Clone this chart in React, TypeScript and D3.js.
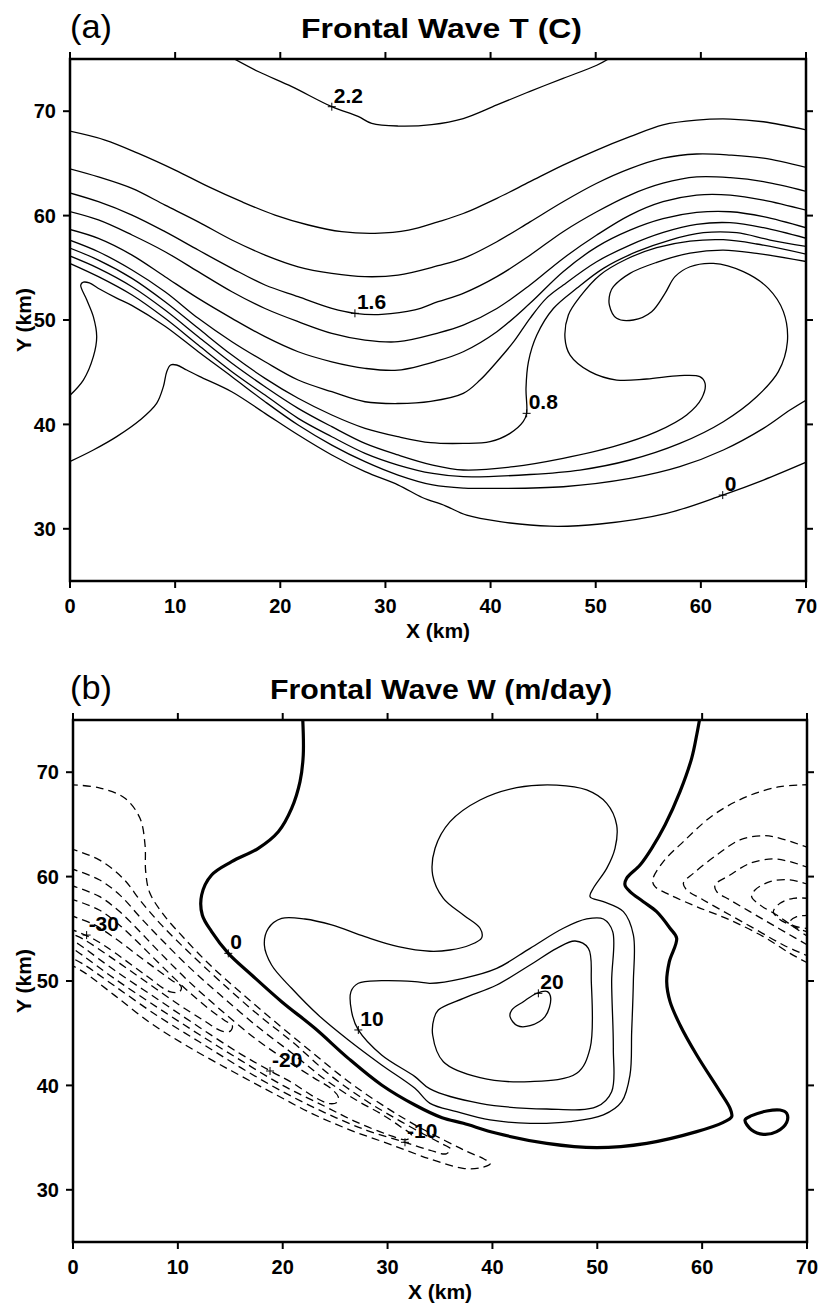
import React from "react";
import * as d3 from "d3";

type Pt = [number, number];

const xTicks = [0, 10, 20, 30, 40, 50, 60, 70];
const yTicks = [30, 40, 50, 60, 70];

// (a) temperature contours, [x km, y km]
const t22: Pt[] = [[15.1, 75.3], [17.9, 73.8], [21.1, 72.35], [24.9, 70.43], [27.4, 69.5], [28.7, 68.83], [31.2, 68.58], [34.4, 68.72], [37.4, 69.3], [40.6, 70.6], [43.75, 71.9], [46.9, 73.15], [50.1, 74.4], [51.7, 75.3]];
const t20: Pt[] = [[-0.3, 68.15], [3.33, 67.24], [6.5, 65.96], [10.0, 64.36], [13.16, 62.77], [16.33, 61.33], [19.5, 60.05], [22.67, 59.1], [25.84, 58.46], [29.0, 58.3], [32.2, 58.6], [35.0, 59.4], [37.4, 60.2], [40.6, 61.65], [43.75, 63.25], [46.9, 64.84], [50.1, 66.28], [53.26, 67.56], [56.4, 68.7], [59.6, 69.15], [62.8, 69.25], [65.95, 68.99], [70.3, 68.15]];
const t18: Pt[] = [[-0.3, 64.55], [2.7, 63.7], [5.9, 62.6], [9.04, 61.0], [12.2, 59.4], [15.4, 57.66], [18.55, 56.22], [21.7, 55.1], [24.9, 54.47], [28.06, 54.15], [31.2, 54.3], [35.0, 55.2], [37.4, 55.9], [40.6, 57.5], [43.75, 59.4], [46.9, 61.33], [50.1, 63.1], [53.26, 64.5], [56.4, 65.5], [59.6, 65.9], [62.8, 65.8], [65.95, 65.5], [70.3, 64.55]];
const t16: Pt[] = [[-0.3, 62.25], [2.7, 61.33], [5.9, 60.05], [9.04, 58.46], [12.2, 56.7], [15.4, 54.95], [18.55, 53.35], [21.7, 52.23], [24.9, 51.11], [27.1, 50.64], [29.65, 50.54], [32.8, 50.96], [35.0, 51.75], [37.4, 52.55], [40.6, 54.15], [43.75, 56.2], [46.9, 58.46], [50.1, 60.37], [53.26, 61.97], [56.4, 63.1], [59.6, 63.7], [62.8, 63.63], [65.95, 63.25], [70.3, 62.25]];
const t14: Pt[] = [[-0.3, 60.45], [2.7, 59.58], [5.9, 58.14], [9.04, 56.54], [12.2, 54.63], [15.4, 52.71], [18.55, 51.1], [21.7, 49.84], [24.9, 48.72], [28.06, 48.08], [31.2, 47.92], [35.0, 48.75], [37.4, 49.5], [40.6, 51.1], [43.75, 53.35], [46.9, 55.9], [50.1, 58.14], [53.26, 60.05], [56.4, 61.33], [59.6, 61.97], [62.8, 61.97], [65.95, 61.49], [70.3, 60.45]];
const t12: Pt[] = [[-0.3, 58.75], [2.7, 57.82], [5.9, 56.22], [9.04, 54.15], [12.2, 52.07], [15.4, 50.16], [18.55, 48.4], [21.7, 46.96], [24.9, 46.0], [28.06, 45.37], [31.2, 45.2], [35.0, 46.1], [37.4, 46.96], [40.6, 48.88], [43.75, 51.6], [46.9, 54.63], [50.1, 57.0], [53.26, 58.6], [56.4, 59.7], [59.6, 60.3], [62.8, 60.37], [65.95, 59.9], [70.3, 58.75]];
const t10: Pt[] = [[-0.3, 57.75], [2.7, 56.54], [5.9, 54.79], [9.04, 52.71], [12.2, 50.16], [15.4, 47.92], [18.55, 46.0], [21.7, 44.25], [24.9, 43.13], [28.06, 42.17], [31.2, 42.0], [34.3, 42.2], [37.4, 42.97], [39.0, 44.25], [40.6, 46.0], [42.2, 47.92], [43.75, 50.16], [45.3, 52.07], [46.92, 53.35], [50.09, 55.58], [53.26, 57.18], [56.43, 58.39], [59.6, 59.16], [62.77, 59.32], [65.95, 58.84], [70.3, 57.75]];
const t08: Pt[] = [[-0.3, 57.0], [2.7, 55.74], [5.9, 53.99], [9.04, 51.75], [12.2, 49.2], [15.4, 46.64], [18.55, 44.41], [21.7, 42.5], [24.9, 40.9], [28.06, 39.62], [31.2, 38.82], [34.3, 38.25], [37.4, 38.18], [39.95, 38.34], [41.85, 39.14], [43.1, 40.26], [43.43, 41.06], [43.37, 43.45], [43.6, 46.0], [44.4, 48.56], [45.97, 51.1], [48.19, 53.03], [50.73, 54.95], [53.9, 56.54], [57.07, 57.66], [60.24, 58.36], [63.41, 58.36], [66.58, 57.66], [70.3, 57.0]];
const t06: Pt[] = [[-0.3, 56.25], [2.7, 54.95], [5.9, 53.19], [9.04, 50.96], [12.2, 48.4], [15.4, 45.85], [18.55, 43.61], [21.7, 41.54], [24.9, 39.78], [28.06, 38.18], [31.2, 37.07], [34.5, 36.1], [37.4, 35.63], [42.2, 35.95], [46.9, 36.75], [51.68, 37.86], [55.8, 39.3], [58.65, 40.9], [60.08, 42.5], [60.4, 43.93], [59.9, 44.57], [58.0, 44.67], [54.85, 44.35], [52.0, 44.25], [49.46, 45.05], [47.56, 46.64], [47.08, 48.24], [47.4, 50.48], [48.51, 52.23], [50.41, 54.31], [52.95, 55.84], [55.8, 56.93], [58.97, 57.56], [62.14, 57.69], [65.31, 57.28], [70.3, 56.25]];
const t04: Pt[] = [[-0.3, 55.55], [2.7, 54.15], [5.9, 52.39], [9.04, 50.16], [12.2, 47.6], [15.4, 45.05], [18.55, 42.81], [21.7, 40.58], [24.9, 38.82], [28.06, 37.23], [31.2, 36.11], [34.5, 35.3], [37.4, 34.99], [43.75, 35.2], [48.5, 35.63], [53.26, 36.59], [58.0, 38.18], [62.14, 40.26], [65.31, 42.65], [67.37, 45.05], [68.23, 47.92], [67.85, 50.8], [66.42, 53.03], [64.04, 54.63], [61.19, 55.42], [58.97, 55.1], [57.54, 54.15], [56.59, 52.55], [55.32, 50.8], [53.58, 50.0], [51.99, 50.16], [51.3, 51.43], [51.36, 52.55], [51.68, 53.19], [53.26, 54.47], [55.8, 55.52], [58.97, 56.41], [62.14, 56.7], [65.31, 56.38], [70.3, 55.55]];
const t02: Pt[] = [[-0.3, 42.5], [1.27, 44.25], [2.22, 46.49], [2.54, 48.4], [2.22, 50.32], [1.6, 51.92], [1.02, 53.35], [1.27, 53.62], [1.84, 53.55], [2.85, 52.95], [4.44, 52.1], [5.87, 51.4], [9.04, 49.4], [12.2, 46.96], [15.4, 44.57], [18.55, 42.17], [21.7, 39.94], [24.9, 38.02], [28.06, 36.43], [31.2, 35.15], [34.5, 34.2], [37.5, 33.9], [40.58, 33.87], [46.92, 34.03], [53.26, 34.83], [58.0, 35.95], [62.14, 37.55], [65.95, 39.62], [68.48, 41.38], [70.3, 42.5]];
const t00: Pt[] = [[-0.3, 36.3], [2.22, 37.55], [4.44, 38.83], [6.66, 40.42], [8.24, 42.02], [8.88, 43.62], [9.2, 45.05], [9.57, 45.69], [10.14, 45.69], [11.1, 45.21], [12.3, 44.6], [15.38, 43.13], [18.55, 41.06], [21.72, 38.98], [24.9, 37.07], [28.06, 35.47], [31.23, 34.19], [33.5, 33.0], [35.7, 32.2], [37.73, 31.3], [40.9, 30.68], [45.65, 30.25], [50.4, 30.46], [56.75, 31.48], [62.08, 33.23], [65.95, 34.67], [70.3, 36.5]];

const tempLabelText = ["2.2", "1.6", "0.8", "0"];
const tempLabelAt: Pt[] = [[24.9, 70.43], [27.1, 50.64], [43.43, 41.06], [62.08, 33.23]];

// (b) vertical velocity contours
const w0: Pt[] = [[21.9, 75.3], [21.96, 71.65], [21.65, 69.1], [20.85, 66.54], [19.58, 64.3], [17.67, 62.71], [15.13, 61.43], [13.22, 60.15], [12.27, 58.24], [12.33, 56.32], [13.22, 54.73], [14.81, 52.65], [17.04, 50.58], [19.9, 48.02], [23.07, 45.47], [26.26, 42.59], [29.43, 40.04], [32.61, 38.12], [35.2, 36.9], [37.23, 36.37], [40.41, 35.41], [45.18, 34.45], [49.94, 34.04], [54.71, 34.45], [59.48, 35.57], [62.02, 36.46], [62.82, 37.0], [62.66, 37.8], [61.7, 39.4], [59.48, 42.91], [57.89, 45.79], [56.94, 48.02], [56.62, 49.94], [56.87, 51.85], [57.57, 54.09], [56.94, 55.05], [55.66, 56.64], [54.39, 57.6], [53.12, 58.56], [52.64, 59.2], [52.8, 59.84], [54.08, 61.11], [55.19, 62.71], [56.46, 64.94], [57.89, 68.14], [59.0, 71.33], [59.48, 73.56], [59.8, 75.3]];
const w0Loop: Pt[] = [[64.09, 36.69], [64.72, 35.73], [65.84, 35.31], [67.11, 35.57], [68.06, 36.46], [68.06, 37.33], [67.43, 37.64], [66.16, 37.55], [64.72, 37.1]];
const w5: Pt[] = [[18.25, 53.45], [18.63, 55.05], [19.9, 56.0], [22.12, 55.94], [24.67, 55.37], [27.84, 54.25], [31.02, 53.29], [34.05, 52.85], [35.96, 52.97], [37.86, 53.45], [38.98, 54.15], [38.82, 55.05], [37.23, 56.32], [35.32, 57.92], [34.3, 60.15], [34.53, 62.71], [35.96, 65.26], [38.82, 67.34], [42.31, 68.52], [46.13, 68.77], [48.99, 68.3], [50.9, 67.02], [51.85, 64.94], [51.69, 62.71], [50.9, 60.79], [49.62, 58.88], [49.31, 58.08], [50.58, 57.6], [52.49, 56.64], [53.44, 54.41], [53.44, 49.94], [53.28, 45.15], [53.12, 41.0], [52.33, 38.44], [50.58, 37.17], [47.4, 36.53], [43.59, 36.37], [39.77, 36.69], [36.59, 37.48], [34.05, 38.28], [32.61, 39.72], [29.43, 41.96], [26.26, 44.35], [23.39, 46.74], [20.85, 49.3], [18.94, 51.53]];
const w10: Pt[] = [[26.51, 48.98], [27.21, 49.78], [29.43, 50.03], [32.61, 49.94], [34.05, 49.78], [37.23, 50.26], [40.41, 51.21], [43.59, 53.13], [46.76, 55.05], [48.99, 55.94], [50.58, 55.94], [51.47, 54.73], [51.37, 49.94], [51.53, 43.55], [51.37, 39.4], [49.94, 37.96], [45.18, 37.74], [38.82, 38.28], [34.05, 39.66], [32.61, 40.84], [29.43, 42.91], [27.21, 45.31], [26.57, 47.06]];
const w15: Pt[] = [[34.84, 47.22], [37.23, 48.34], [40.41, 49.62], [43.59, 51.53], [46.13, 53.13], [47.88, 53.83], [49.15, 53.13], [49.43, 49.94], [49.31, 43.55], [48.04, 41.16], [43.59, 40.36], [38.82, 40.74], [35.32, 42.27], [34.3, 44.83], [34.43, 46.42]];
const w20: Pt[] = [[41.68, 46.58], [42.38, 45.72], [43.59, 45.72], [45.02, 46.58], [45.56, 48.34], [45.24, 48.98], [44.22, 48.82], [42.95, 48.02], [41.84, 47.22]];

// negative trough along the front (left side)
const wm5: Pt[] = [[-0.3, 68.8], [2.42, 68.52], [4.96, 67.5], [6.39, 65.58], [6.87, 63.03], [6.93, 60.5], [7.3, 58.5], [8.6, 56.4], [10.6, 54.1], [13, 51.6], [16, 48.9], [19.5, 45.9], [23, 43.0], [26.5, 40.2], [30, 37.8], [33, 36.0], [35.5, 34.7], [37.5, 33.7], [39.2, 32.95], [39.8, 32.5], [38.8, 32.1], [37.2, 32.06], [34.2, 32.9], [30.4, 34.3], [26.5, 35.7], [22.8, 37.3], [19, 39.3], [15.1, 41.4], [11, 43.7], [7.5, 45.9], [4, 48.6], [1.1, 50.8], [-0.3, 51.6]];
const wm10: Pt[] = [[-0.3, 62.7], [2.5, 61.6], [4.8, 59.8], [6.5, 57.6], [8.5, 55.3], [11, 52.8], [14, 50.0], [17.5, 46.9], [21, 44.1], [24.5, 41.0], [28, 38.5], [31, 36.7], [33.5, 35.3], [35.0, 34.5], [36.0, 33.9], [35.6, 33.45], [34, 33.8], [31.5, 34.6], [28, 35.7], [24, 37.4], [20, 39.4], [16, 41.7], [12, 44.2], [8, 46.7], [4, 49.5], [1, 51.6], [-0.3, 52.3]];
const wm15: Pt[] = [[-0.3, 60.8], [2.5, 59.7], [4.5, 58.2], [6.5, 56.0], [8.5, 53.9], [11, 51.4], [14, 48.7], [17.5, 45.7], [21, 43.0], [24, 40.6], [27, 38.6], [29.5, 37.2], [31.3, 36.0], [32.3, 35.2], [31.8, 34.8], [30, 35.3], [27, 36.5], [24, 38.0], [20, 40.0], [16, 42.4], [12, 44.9], [8, 47.5], [4, 50.2], [1, 52.4], [-0.3, 53.3]];
const wm20: Pt[] = [[-0.3, 59.2], [2.5, 58.1], [4.5, 56.6], [6.5, 54.6], [8.5, 52.5], [11, 50.0], [14, 47.3], [17.5, 44.4], [20.5, 42.3], [23, 40.7], [24.6, 39.7], [25.3, 38.9], [25.2, 38.4], [24.5, 38.25], [23, 38.9], [21, 40.2], [18.8, 41.4], [16, 43.0], [12, 45.6], [8, 48.3], [4, 51.0], [1, 53.2], [-0.3, 54.1]];
const wm25: Pt[] = [[-0.3, 57.9], [2.5, 56.8], [4.5, 55.3], [6.5, 53.4], [8.5, 51.4], [11, 49.0], [13, 47.3], [14.5, 46.2], [15.2, 45.7], [15.0, 45.2], [14.2, 45.2], [12.5, 46.2], [10, 47.8], [7, 49.9], [4, 52.0], [1, 54.0], [-0.3, 54.6]];
const wm30: Pt[] = [[-0.3, 56.3], [2, 55.4], [4, 54.1], [6, 52.6], [8, 51.1], [9.5, 50.0], [10.3, 49.5], [10.2, 49.0], [9.3, 48.95], [7, 50.5], [4, 52.7], [2, 54.0], [-0.3, 55.0]];

// same trough re-entering from the right edge
const wr5: Pt[] = [[70.3, 68.8], [67.43, 68.62], [64.25, 67.66], [61.07, 65.9], [58.21, 63.35], [56.3, 61.43], [55.28, 59.68], [55.51, 59.04], [56.94, 58.24], [59.48, 57.12], [62.66, 55.84], [65.84, 54.25], [68.38, 52.65], [70.3, 51.6]];
const wr10: Pt[] = [[70.3, 62.7], [67.43, 63.67], [65.84, 63.92], [63.61, 63.51], [61.39, 62.07], [59.16, 60.31], [58.21, 59.36], [58.53, 58.72], [60.11, 57.76], [62.66, 56.32], [65.2, 54.89], [67.74, 53.45], [70.3, 52.3]];
const wr15: Pt[] = [[70.3, 60.8], [68.38, 61.43], [66.79, 61.69], [64.56, 61.27], [62.66, 60.15], [61.23, 59.2], [61.39, 58.56], [62.66, 57.76], [64.56, 56.64], [66.47, 55.52], [68.38, 54.41], [70.3, 53.3]];
const wr20: Pt[] = [[70.3, 59.2], [68.38, 59.68], [66.47, 59.52], [65.04, 58.72], [64.72, 58.08], [65.52, 57.28], [67.11, 56.32], [68.7, 55.2], [70.3, 54.1]];
const wr25: Pt[] = [[70.3, 57.9], [68.7, 57.92], [67.43, 57.44], [66.79, 56.64], [67.27, 56.0], [68.38, 55.37], [70.3, 54.6]];
const wr30: Pt[] = [[70.3, 56.3], [69.02, 56.16], [68.38, 55.68], [68.7, 55.3], [70.3, 55.0]];

const wLabelText = ["-30", "0", "10", "20", "-20", "-10"];
const wLabelAt: Pt[] = [[1.3, 54.4], [14.81, 52.65], [27.21, 45.31], [44.38, 48.82], [18.79, 41.38], [31.66, 34.55]];

type Kind = "thin" | "thick" | "dash";
interface Contour { pts: Pt[]; closed?: boolean; kind: Kind }

const tempLines: Contour[] = [t22, t20, t18, t16, t14, t12, t10, t08, t06, t04, t02, t00].map((pts) => ({ pts, kind: "thin" as Kind }));

const wLines: Contour[] = [
  { pts: w0, kind: "thick" },
  { pts: w0Loop, kind: "thick", closed: true },
  ...[w5, w10, w15, w20].map((pts) => ({ pts, kind: "thin" as Kind, closed: true })),
  ...[wm5, wm10, wm15, wm20, wm25, wm30, wr5, wr10, wr15, wr20, wr25, wr30].map((pts) => ({ pts, kind: "dash" as Kind })),
];

const FONT = "'Liberation Sans', Arial, Helvetica, sans-serif";

interface PanelProps {
  id: string;
  left: number;
  right: number;
  top: number;
  bottom: number;
  tag: string;
  title: string;
  titleStart: number;
  titleWidth: number;
  lines: Contour[];
  labelText: string[];
  labelAt: Pt[];
}

const Panel: React.FC<PanelProps> = ({ id, left, right, top, bottom, tag, title, titleStart, titleWidth, lines, labelText, labelAt }) => {
  const x = d3.scaleLinear().domain([0, 70]).range([left, right]);
  const y = d3.scaleLinear().domain([25, 75]).range([bottom, top]);
  const open = d3.line<Pt>().x((d) => x(d[0])).y((d) => y(d[1])).curve(d3.curveCatmullRom.alpha(0.5));
  const closed = d3.line<Pt>().x((d) => x(d[0])).y((d) => y(d[1])).curve(d3.curveCatmullRomClosed.alpha(0.5));
  const tk = 7;

  return (
    <g fontFamily={FONT}>
      <defs>
        <clipPath id={id}>
          <rect x={left} y={top} width={right - left} height={bottom - top} />
        </clipPath>
      </defs>

      <text x={70} y={top - 21} fontSize={34} textLength={42} lengthAdjust="spacingAndGlyphs">{tag}</text>
      <text x={titleStart} y={top - 21} fontSize={28} fontWeight="bold" textLength={titleWidth} lengthAdjust="spacingAndGlyphs">{title}</text>

      <g clipPath={`url(#${id})`} fill="none" stroke="#000">
        {lines.map((c, i) => (
          <path
            key={i}
            d={(c.closed ? closed : open)(c.pts) || ""}
            strokeWidth={c.kind === "thick" ? 3.2 : 1.3}
            strokeDasharray={c.kind === "dash" ? "8,5" : undefined}
            strokeLinejoin="round"
          />
        ))}
      </g>

      {labelAt.map((p, i) => (
        <g key={i}>
          <path d={`M${x(p[0]) - 4},${y(p[1])}h8M${x(p[0])},${y(p[1]) - 4}v8`} stroke="#000" strokeWidth={1} />
          <text x={x(p[0]) + 2} y={y(p[1]) - 4} fontSize={21} fontWeight="bold">{labelText[i]}</text>
        </g>
      ))}

      <rect x={left} y={top} width={right - left} height={bottom - top} fill="none" stroke="#000" strokeWidth={2.5} />
      {xTicks.map((t) => (
        <g key={"x" + t}>
          <line x1={x(t)} x2={x(t)} y1={bottom} y2={bottom + tk} stroke="#000" strokeWidth={2} />
          <line x1={x(t)} x2={x(t)} y1={top} y2={top - tk} stroke="#000" strokeWidth={2} />
          <text x={x(t)} y={bottom + 32} fontSize={20} fontWeight="bold" textAnchor="middle">{t}</text>
        </g>
      ))}
      {yTicks.map((t) => (
        <g key={"y" + t}>
          <line x1={left} x2={left - tk} y1={y(t)} y2={y(t)} stroke="#000" strokeWidth={2} />
          <line x1={right} x2={right + tk} y1={y(t)} y2={y(t)} stroke="#000" strokeWidth={2} />
          <text x={left - 14} y={y(t)} dy="0.36em" fontSize={20} fontWeight="bold" textAnchor="end">{t}</text>
        </g>
      ))}
      <text x={(left + right) / 2} y={bottom + 57} fontSize={21} fontWeight="bold" textAnchor="middle">X (km)</text>
      <text transform={`translate(31,${(top + bottom) / 2}) rotate(-90)`} fontSize={21} fontWeight="bold" textAnchor="middle">Y (km)</text>
    </g>
  );
};

export default function App() {
  return (
    <svg width={822} height={1305} style={{ position: "absolute", left: 0, top: 0, background: "#fff" }}>
      <Panel
        id="clipA" left={70} right={806} top={59} bottom={581}
        tag="(a)" title="Frontal Wave T (C)" titleStart={301} titleWidth={281}
        lines={tempLines} labelText={tempLabelText} labelAt={tempLabelAt}
      />
      <Panel
        id="clipB" left={73} right={807} top={720} bottom={1242}
        tag="(b)" title="Frontal Wave W (m/day)" titleStart={270} titleWidth={342}
        lines={wLines} labelText={wLabelText} labelAt={wLabelAt}
      />
    </svg>
  );
}
